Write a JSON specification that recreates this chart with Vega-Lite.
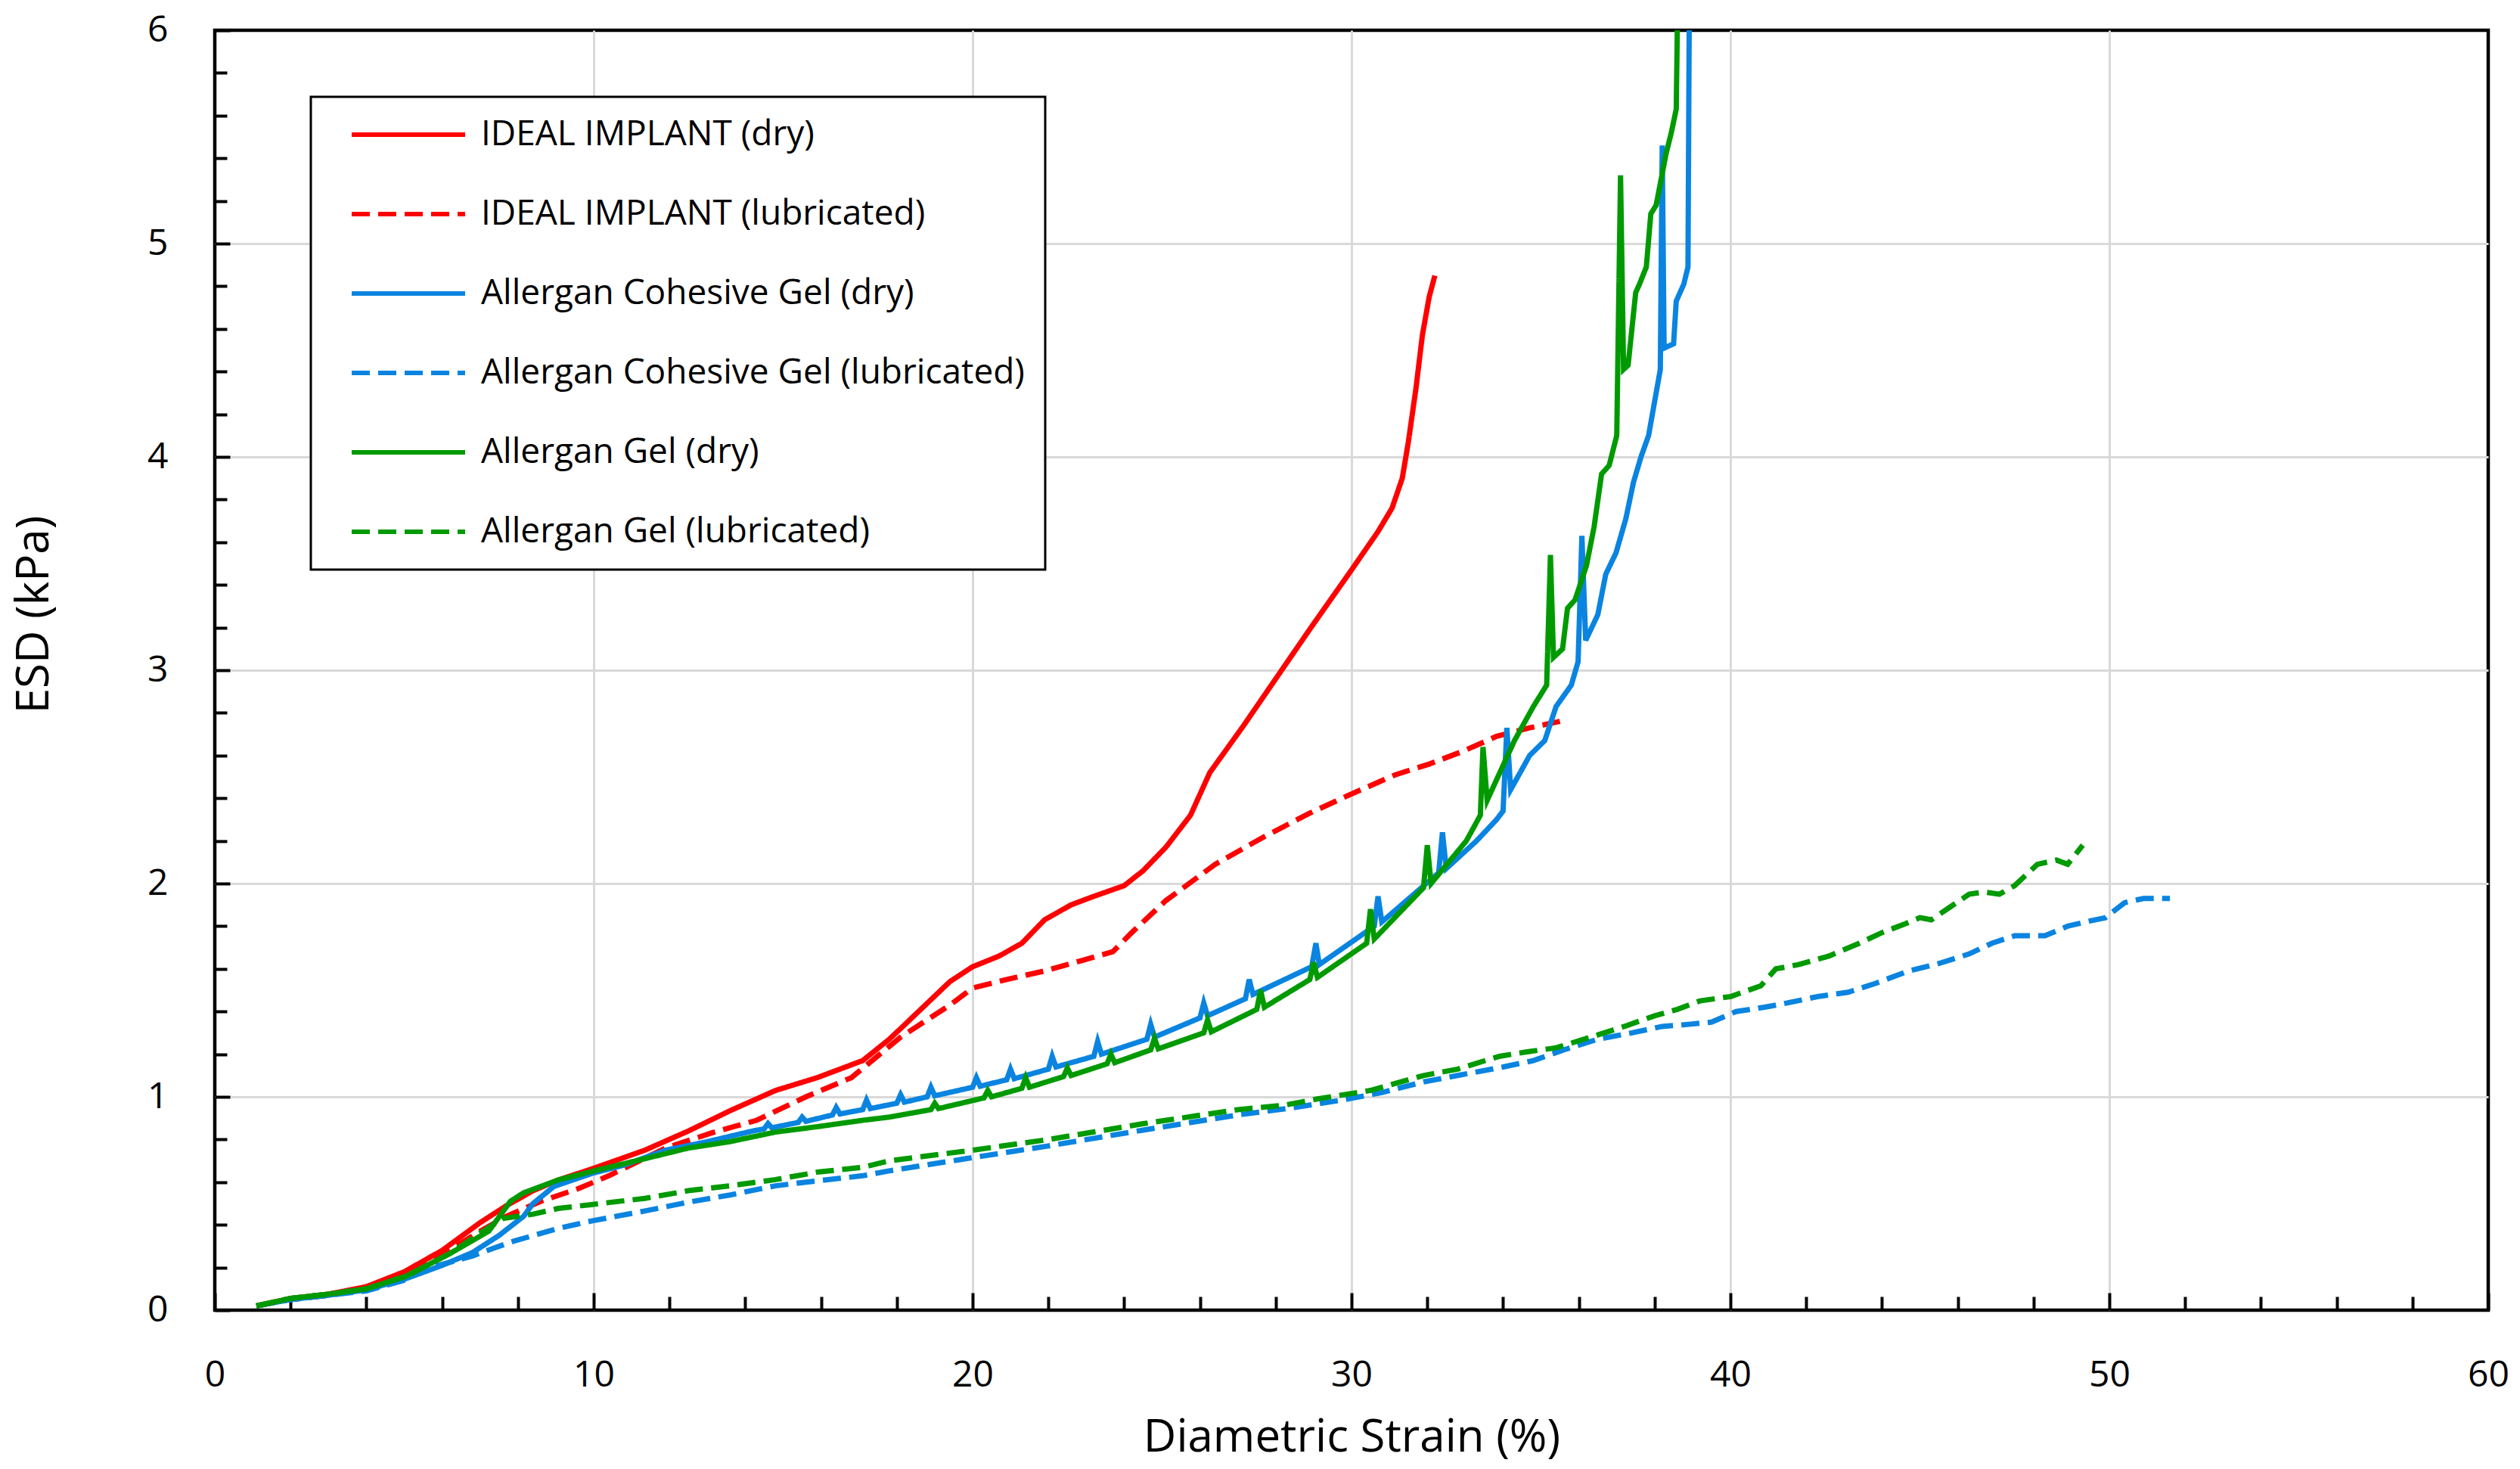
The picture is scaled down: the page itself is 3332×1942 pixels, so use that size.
{
  "$schema": "https://vega.github.io/schema/vega-lite/v6.json",
  "width": 3006,
  "height": 1692,
  "autosize": {"type": "none"},
  "padding": {"left": 284, "top": 40, "right": 42, "bottom": 210},
  "background": "white",
  "config": {
    "font": "Open Sans",
    "view": {"stroke": "black", "strokeWidth": 4.5},
    "legend": {"strokeWidth": 3}
  },
  "data": {
    "values": [
      {"s": "IDEAL IMPLANT (dry)", "x": 1.1, "y": 0.02},
      {"s": "IDEAL IMPLANT (dry)", "x": 2, "y": 0.055},
      {"s": "IDEAL IMPLANT (dry)", "x": 3, "y": 0.075},
      {"s": "IDEAL IMPLANT (dry)", "x": 4, "y": 0.11},
      {"s": "IDEAL IMPLANT (dry)", "x": 5, "y": 0.18},
      {"s": "IDEAL IMPLANT (dry)", "x": 6, "y": 0.28},
      {"s": "IDEAL IMPLANT (dry)", "x": 7, "y": 0.41},
      {"s": "IDEAL IMPLANT (dry)", "x": 7.7, "y": 0.49},
      {"s": "IDEAL IMPLANT (dry)", "x": 8.4, "y": 0.56},
      {"s": "IDEAL IMPLANT (dry)", "x": 9.06, "y": 0.61},
      {"s": "IDEAL IMPLANT (dry)", "x": 10, "y": 0.665},
      {"s": "IDEAL IMPLANT (dry)", "x": 11.35, "y": 0.75},
      {"s": "IDEAL IMPLANT (dry)", "x": 12.5, "y": 0.84},
      {"s": "IDEAL IMPLANT (dry)", "x": 13.6, "y": 0.935},
      {"s": "IDEAL IMPLANT (dry)", "x": 14.8, "y": 1.03},
      {"s": "IDEAL IMPLANT (dry)", "x": 15.9, "y": 1.09},
      {"s": "IDEAL IMPLANT (dry)", "x": 17.1, "y": 1.17},
      {"s": "IDEAL IMPLANT (dry)", "x": 17.8, "y": 1.27},
      {"s": "IDEAL IMPLANT (dry)", "x": 18.1, "y": 1.32},
      {"s": "IDEAL IMPLANT (dry)", "x": 18.75, "y": 1.43},
      {"s": "IDEAL IMPLANT (dry)", "x": 19.4, "y": 1.54},
      {"s": "IDEAL IMPLANT (dry)", "x": 20, "y": 1.61},
      {"s": "IDEAL IMPLANT (dry)", "x": 20.7, "y": 1.66},
      {"s": "IDEAL IMPLANT (dry)", "x": 21.3, "y": 1.72},
      {"s": "IDEAL IMPLANT (dry)", "x": 21.9, "y": 1.83},
      {"s": "IDEAL IMPLANT (dry)", "x": 22.6, "y": 1.9},
      {"s": "IDEAL IMPLANT (dry)", "x": 23.2, "y": 1.94},
      {"s": "IDEAL IMPLANT (dry)", "x": 24, "y": 1.99},
      {"s": "IDEAL IMPLANT (dry)", "x": 24.5, "y": 2.06},
      {"s": "IDEAL IMPLANT (dry)", "x": 25.1, "y": 2.17},
      {"s": "IDEAL IMPLANT (dry)", "x": 25.75, "y": 2.32},
      {"s": "IDEAL IMPLANT (dry)", "x": 26.26, "y": 2.52},
      {"s": "IDEAL IMPLANT (dry)", "x": 27.15, "y": 2.74},
      {"s": "IDEAL IMPLANT (dry)", "x": 28.04, "y": 2.97},
      {"s": "IDEAL IMPLANT (dry)", "x": 28.93, "y": 3.2},
      {"s": "IDEAL IMPLANT (dry)", "x": 30, "y": 3.47},
      {"s": "IDEAL IMPLANT (dry)", "x": 30.7, "y": 3.65},
      {"s": "IDEAL IMPLANT (dry)", "x": 31.07, "y": 3.76},
      {"s": "IDEAL IMPLANT (dry)", "x": 31.34, "y": 3.9},
      {"s": "IDEAL IMPLANT (dry)", "x": 31.5, "y": 4.07},
      {"s": "IDEAL IMPLANT (dry)", "x": 31.7, "y": 4.32},
      {"s": "IDEAL IMPLANT (dry)", "x": 31.87, "y": 4.57},
      {"s": "IDEAL IMPLANT (dry)", "x": 32.05, "y": 4.75},
      {"s": "IDEAL IMPLANT (dry)", "x": 32.2, "y": 4.85},

      {"s": "IDEAL IMPLANT (lubricated)", "x": 1.1, "y": 0.02},
      {"s": "IDEAL IMPLANT (lubricated)", "x": 2, "y": 0.05},
      {"s": "IDEAL IMPLANT (lubricated)", "x": 3, "y": 0.07},
      {"s": "IDEAL IMPLANT (lubricated)", "x": 4, "y": 0.105},
      {"s": "IDEAL IMPLANT (lubricated)", "x": 5, "y": 0.17},
      {"s": "IDEAL IMPLANT (lubricated)", "x": 6, "y": 0.26},
      {"s": "IDEAL IMPLANT (lubricated)", "x": 7, "y": 0.37},
      {"s": "IDEAL IMPLANT (lubricated)", "x": 7.7, "y": 0.44},
      {"s": "IDEAL IMPLANT (lubricated)", "x": 8.6, "y": 0.51},
      {"s": "IDEAL IMPLANT (lubricated)", "x": 9.6, "y": 0.57},
      {"s": "IDEAL IMPLANT (lubricated)", "x": 10.4, "y": 0.63},
      {"s": "IDEAL IMPLANT (lubricated)", "x": 11.9, "y": 0.76},
      {"s": "IDEAL IMPLANT (lubricated)", "x": 13.1, "y": 0.83},
      {"s": "IDEAL IMPLANT (lubricated)", "x": 14.3, "y": 0.89},
      {"s": "IDEAL IMPLANT (lubricated)", "x": 15.6, "y": 1.0},
      {"s": "IDEAL IMPLANT (lubricated)", "x": 16.8, "y": 1.09},
      {"s": "IDEAL IMPLANT (lubricated)", "x": 18.1, "y": 1.28},
      {"s": "IDEAL IMPLANT (lubricated)", "x": 19.4, "y": 1.43},
      {"s": "IDEAL IMPLANT (lubricated)", "x": 20, "y": 1.51},
      {"s": "IDEAL IMPLANT (lubricated)", "x": 20.9, "y": 1.55},
      {"s": "IDEAL IMPLANT (lubricated)", "x": 21.9, "y": 1.59},
      {"s": "IDEAL IMPLANT (lubricated)", "x": 22.9, "y": 1.64},
      {"s": "IDEAL IMPLANT (lubricated)", "x": 23.7, "y": 1.68},
      {"s": "IDEAL IMPLANT (lubricated)", "x": 24.2, "y": 1.77},
      {"s": "IDEAL IMPLANT (lubricated)", "x": 25.1, "y": 1.92},
      {"s": "IDEAL IMPLANT (lubricated)", "x": 26.4, "y": 2.09},
      {"s": "IDEAL IMPLANT (lubricated)", "x": 27.7, "y": 2.22},
      {"s": "IDEAL IMPLANT (lubricated)", "x": 28.9, "y": 2.33},
      {"s": "IDEAL IMPLANT (lubricated)", "x": 30, "y": 2.42},
      {"s": "IDEAL IMPLANT (lubricated)", "x": 31.16, "y": 2.51},
      {"s": "IDEAL IMPLANT (lubricated)", "x": 32.05, "y": 2.56},
      {"s": "IDEAL IMPLANT (lubricated)", "x": 32.94, "y": 2.62},
      {"s": "IDEAL IMPLANT (lubricated)", "x": 33.83, "y": 2.69},
      {"s": "IDEAL IMPLANT (lubricated)", "x": 34.7, "y": 2.73},
      {"s": "IDEAL IMPLANT (lubricated)", "x": 35.5, "y": 2.76},

      {"s": "Allergan Cohesive Gel (dry)", "x": 1.1, "y": 0.02},
      {"s": "Allergan Cohesive Gel (dry)", "x": 2, "y": 0.05},
      {"s": "Allergan Cohesive Gel (dry)", "x": 3, "y": 0.07},
      {"s": "Allergan Cohesive Gel (dry)", "x": 4, "y": 0.095},
      {"s": "Allergan Cohesive Gel (dry)", "x": 5, "y": 0.145},
      {"s": "Allergan Cohesive Gel (dry)", "x": 6, "y": 0.21},
      {"s": "Allergan Cohesive Gel (dry)", "x": 6.8, "y": 0.27},
      {"s": "Allergan Cohesive Gel (dry)", "x": 7.5, "y": 0.35},
      {"s": "Allergan Cohesive Gel (dry)", "x": 8.15, "y": 0.44},
      {"s": "Allergan Cohesive Gel (dry)", "x": 8.4, "y": 0.5},
      {"s": "Allergan Cohesive Gel (dry)", "x": 8.95, "y": 0.58},
      {"s": "Allergan Cohesive Gel (dry)", "x": 9.94, "y": 0.64},
      {"s": "Allergan Cohesive Gel (dry)", "x": 10.8, "y": 0.68},
      {"s": "Allergan Cohesive Gel (dry)", "x": 11.9, "y": 0.75},
      {"s": "Allergan Cohesive Gel (dry)", "x": 13, "y": 0.79},
      {"s": "Allergan Cohesive Gel (dry)", "x": 14.2, "y": 0.84},
      {"s": "Allergan Cohesive Gel (dry)", "x": 14.5, "y": 0.85},
      {"s": "Allergan Cohesive Gel (dry)", "x": 14.6, "y": 0.875},
      {"s": "Allergan Cohesive Gel (dry)", "x": 14.7, "y": 0.855},
      {"s": "Allergan Cohesive Gel (dry)", "x": 15.4, "y": 0.88},
      {"s": "Allergan Cohesive Gel (dry)", "x": 15.5, "y": 0.905},
      {"s": "Allergan Cohesive Gel (dry)", "x": 15.6, "y": 0.885},
      {"s": "Allergan Cohesive Gel (dry)", "x": 16.3, "y": 0.915},
      {"s": "Allergan Cohesive Gel (dry)", "x": 16.4, "y": 0.95},
      {"s": "Allergan Cohesive Gel (dry)", "x": 16.5, "y": 0.92},
      {"s": "Allergan Cohesive Gel (dry)", "x": 17.1, "y": 0.94},
      {"s": "Allergan Cohesive Gel (dry)", "x": 17.2, "y": 0.985},
      {"s": "Allergan Cohesive Gel (dry)", "x": 17.3, "y": 0.945},
      {"s": "Allergan Cohesive Gel (dry)", "x": 18.0, "y": 0.97},
      {"s": "Allergan Cohesive Gel (dry)", "x": 18.1, "y": 1.01},
      {"s": "Allergan Cohesive Gel (dry)", "x": 18.2, "y": 0.975},
      {"s": "Allergan Cohesive Gel (dry)", "x": 18.8, "y": 1.0},
      {"s": "Allergan Cohesive Gel (dry)", "x": 18.9, "y": 1.045},
      {"s": "Allergan Cohesive Gel (dry)", "x": 19.0, "y": 1.005},
      {"s": "Allergan Cohesive Gel (dry)", "x": 20.0, "y": 1.045},
      {"s": "Allergan Cohesive Gel (dry)", "x": 20.1, "y": 1.09},
      {"s": "Allergan Cohesive Gel (dry)", "x": 20.2, "y": 1.05},
      {"s": "Allergan Cohesive Gel (dry)", "x": 20.9, "y": 1.08},
      {"s": "Allergan Cohesive Gel (dry)", "x": 21.0, "y": 1.13},
      {"s": "Allergan Cohesive Gel (dry)", "x": 21.1, "y": 1.085},
      {"s": "Allergan Cohesive Gel (dry)", "x": 22.0, "y": 1.13},
      {"s": "Allergan Cohesive Gel (dry)", "x": 22.1, "y": 1.19},
      {"s": "Allergan Cohesive Gel (dry)", "x": 22.2, "y": 1.14},
      {"s": "Allergan Cohesive Gel (dry)", "x": 23.2, "y": 1.19},
      {"s": "Allergan Cohesive Gel (dry)", "x": 23.3, "y": 1.26},
      {"s": "Allergan Cohesive Gel (dry)", "x": 23.4, "y": 1.2},
      {"s": "Allergan Cohesive Gel (dry)", "x": 24.6, "y": 1.27},
      {"s": "Allergan Cohesive Gel (dry)", "x": 24.7, "y": 1.34},
      {"s": "Allergan Cohesive Gel (dry)", "x": 24.8, "y": 1.28},
      {"s": "Allergan Cohesive Gel (dry)", "x": 26.0, "y": 1.37},
      {"s": "Allergan Cohesive Gel (dry)", "x": 26.1, "y": 1.44},
      {"s": "Allergan Cohesive Gel (dry)", "x": 26.2, "y": 1.38},
      {"s": "Allergan Cohesive Gel (dry)", "x": 27.2, "y": 1.46},
      {"s": "Allergan Cohesive Gel (dry)", "x": 27.3, "y": 1.55},
      {"s": "Allergan Cohesive Gel (dry)", "x": 27.4, "y": 1.48},
      {"s": "Allergan Cohesive Gel (dry)", "x": 28.95, "y": 1.61},
      {"s": "Allergan Cohesive Gel (dry)", "x": 29.06, "y": 1.72},
      {"s": "Allergan Cohesive Gel (dry)", "x": 29.15, "y": 1.62},
      {"s": "Allergan Cohesive Gel (dry)", "x": 30.6, "y": 1.8},
      {"s": "Allergan Cohesive Gel (dry)", "x": 30.7, "y": 1.94},
      {"s": "Allergan Cohesive Gel (dry)", "x": 30.8, "y": 1.82},
      {"s": "Allergan Cohesive Gel (dry)", "x": 32.3, "y": 2.05},
      {"s": "Allergan Cohesive Gel (dry)", "x": 32.4, "y": 2.24},
      {"s": "Allergan Cohesive Gel (dry)", "x": 32.5, "y": 2.07},
      {"s": "Allergan Cohesive Gel (dry)", "x": 33.3, "y": 2.2},
      {"s": "Allergan Cohesive Gel (dry)", "x": 33.83, "y": 2.3},
      {"s": "Allergan Cohesive Gel (dry)", "x": 34.0, "y": 2.34},
      {"s": "Allergan Cohesive Gel (dry)", "x": 34.1, "y": 2.73},
      {"s": "Allergan Cohesive Gel (dry)", "x": 34.2, "y": 2.44},
      {"s": "Allergan Cohesive Gel (dry)", "x": 34.7, "y": 2.6},
      {"s": "Allergan Cohesive Gel (dry)", "x": 35.1, "y": 2.67},
      {"s": "Allergan Cohesive Gel (dry)", "x": 35.4, "y": 2.83},
      {"s": "Allergan Cohesive Gel (dry)", "x": 35.8, "y": 2.93},
      {"s": "Allergan Cohesive Gel (dry)", "x": 35.98, "y": 3.04},
      {"s": "Allergan Cohesive Gel (dry)", "x": 36.08, "y": 3.63},
      {"s": "Allergan Cohesive Gel (dry)", "x": 36.18, "y": 3.14},
      {"s": "Allergan Cohesive Gel (dry)", "x": 36.5, "y": 3.26},
      {"s": "Allergan Cohesive Gel (dry)", "x": 36.71, "y": 3.45},
      {"s": "Allergan Cohesive Gel (dry)", "x": 36.98, "y": 3.55},
      {"s": "Allergan Cohesive Gel (dry)", "x": 37.24, "y": 3.71},
      {"s": "Allergan Cohesive Gel (dry)", "x": 37.44, "y": 3.88},
      {"s": "Allergan Cohesive Gel (dry)", "x": 37.64, "y": 4.0},
      {"s": "Allergan Cohesive Gel (dry)", "x": 37.84, "y": 4.1},
      {"s": "Allergan Cohesive Gel (dry)", "x": 38.04, "y": 4.3},
      {"s": "Allergan Cohesive Gel (dry)", "x": 38.15, "y": 4.41},
      {"s": "Allergan Cohesive Gel (dry)", "x": 38.2, "y": 5.46},
      {"s": "Allergan Cohesive Gel (dry)", "x": 38.25, "y": 4.51},
      {"s": "Allergan Cohesive Gel (dry)", "x": 38.5, "y": 4.53},
      {"s": "Allergan Cohesive Gel (dry)", "x": 38.57, "y": 4.73},
      {"s": "Allergan Cohesive Gel (dry)", "x": 38.77, "y": 4.81},
      {"s": "Allergan Cohesive Gel (dry)", "x": 38.88, "y": 4.89},
      {"s": "Allergan Cohesive Gel (dry)", "x": 38.92, "y": 6.3},

      {"s": "Allergan Cohesive Gel (lubricated)", "x": 1.1, "y": 0.02},
      {"s": "Allergan Cohesive Gel (lubricated)", "x": 2, "y": 0.05},
      {"s": "Allergan Cohesive Gel (lubricated)", "x": 3, "y": 0.07},
      {"s": "Allergan Cohesive Gel (lubricated)", "x": 4, "y": 0.09},
      {"s": "Allergan Cohesive Gel (lubricated)", "x": 5, "y": 0.14},
      {"s": "Allergan Cohesive Gel (lubricated)", "x": 5.6, "y": 0.195},
      {"s": "Allergan Cohesive Gel (lubricated)", "x": 6.8, "y": 0.254},
      {"s": "Allergan Cohesive Gel (lubricated)", "x": 7.35, "y": 0.29},
      {"s": "Allergan Cohesive Gel (lubricated)", "x": 7.9, "y": 0.324},
      {"s": "Allergan Cohesive Gel (lubricated)", "x": 9.06, "y": 0.383},
      {"s": "Allergan Cohesive Gel (lubricated)", "x": 9.94, "y": 0.418},
      {"s": "Allergan Cohesive Gel (lubricated)", "x": 11.35, "y": 0.465},
      {"s": "Allergan Cohesive Gel (lubricated)", "x": 12.5, "y": 0.506},
      {"s": "Allergan Cohesive Gel (lubricated)", "x": 13.6, "y": 0.54},
      {"s": "Allergan Cohesive Gel (lubricated)", "x": 14.8, "y": 0.583},
      {"s": "Allergan Cohesive Gel (lubricated)", "x": 15.9, "y": 0.606},
      {"s": "Allergan Cohesive Gel (lubricated)", "x": 17.1, "y": 0.63},
      {"s": "Allergan Cohesive Gel (lubricated)", "x": 17.8, "y": 0.653},
      {"s": "Allergan Cohesive Gel (lubricated)", "x": 20, "y": 0.715},
      {"s": "Allergan Cohesive Gel (lubricated)", "x": 22, "y": 0.77},
      {"s": "Allergan Cohesive Gel (lubricated)", "x": 24.5, "y": 0.844},
      {"s": "Allergan Cohesive Gel (lubricated)", "x": 27, "y": 0.915},
      {"s": "Allergan Cohesive Gel (lubricated)", "x": 28.5, "y": 0.95},
      {"s": "Allergan Cohesive Gel (lubricated)", "x": 29.75, "y": 0.985},
      {"s": "Allergan Cohesive Gel (lubricated)", "x": 30.8, "y": 1.02},
      {"s": "Allergan Cohesive Gel (lubricated)", "x": 31.9, "y": 1.07},
      {"s": "Allergan Cohesive Gel (lubricated)", "x": 32.8, "y": 1.1},
      {"s": "Allergan Cohesive Gel (lubricated)", "x": 34.0, "y": 1.14},
      {"s": "Allergan Cohesive Gel (lubricated)", "x": 34.8, "y": 1.17},
      {"s": "Allergan Cohesive Gel (lubricated)", "x": 35.6, "y": 1.22},
      {"s": "Allergan Cohesive Gel (lubricated)", "x": 36.5, "y": 1.27},
      {"s": "Allergan Cohesive Gel (lubricated)", "x": 37.4, "y": 1.3},
      {"s": "Allergan Cohesive Gel (lubricated)", "x": 38.2, "y": 1.33},
      {"s": "Allergan Cohesive Gel (lubricated)", "x": 38.9, "y": 1.34},
      {"s": "Allergan Cohesive Gel (lubricated)", "x": 39.5, "y": 1.35},
      {"s": "Allergan Cohesive Gel (lubricated)", "x": 40.15, "y": 1.4},
      {"s": "Allergan Cohesive Gel (lubricated)", "x": 40.9, "y": 1.42},
      {"s": "Allergan Cohesive Gel (lubricated)", "x": 41.5, "y": 1.44},
      {"s": "Allergan Cohesive Gel (lubricated)", "x": 42.3, "y": 1.47},
      {"s": "Allergan Cohesive Gel (lubricated)", "x": 43.1, "y": 1.49},
      {"s": "Allergan Cohesive Gel (lubricated)", "x": 43.8, "y": 1.53},
      {"s": "Allergan Cohesive Gel (lubricated)", "x": 44.7, "y": 1.59},
      {"s": "Allergan Cohesive Gel (lubricated)", "x": 45.5, "y": 1.625},
      {"s": "Allergan Cohesive Gel (lubricated)", "x": 46.3, "y": 1.67},
      {"s": "Allergan Cohesive Gel (lubricated)", "x": 46.9, "y": 1.72},
      {"s": "Allergan Cohesive Gel (lubricated)", "x": 47.5, "y": 1.755},
      {"s": "Allergan Cohesive Gel (lubricated)", "x": 48.3, "y": 1.755},
      {"s": "Allergan Cohesive Gel (lubricated)", "x": 48.9, "y": 1.8},
      {"s": "Allergan Cohesive Gel (lubricated)", "x": 49.5, "y": 1.825},
      {"s": "Allergan Cohesive Gel (lubricated)", "x": 49.9, "y": 1.84},
      {"s": "Allergan Cohesive Gel (lubricated)", "x": 50.4, "y": 1.91},
      {"s": "Allergan Cohesive Gel (lubricated)", "x": 50.9, "y": 1.93},
      {"s": "Allergan Cohesive Gel (lubricated)", "x": 51.6, "y": 1.93},

      {"s": "Allergan Gel (dry)", "x": 1.1, "y": 0.02},
      {"s": "Allergan Gel (dry)", "x": 2, "y": 0.055},
      {"s": "Allergan Gel (dry)", "x": 3, "y": 0.075},
      {"s": "Allergan Gel (dry)", "x": 4, "y": 0.1},
      {"s": "Allergan Gel (dry)", "x": 5.06, "y": 0.16},
      {"s": "Allergan Gel (dry)", "x": 6.2, "y": 0.265},
      {"s": "Allergan Gel (dry)", "x": 7.23, "y": 0.37},
      {"s": "Allergan Gel (dry)", "x": 7.8, "y": 0.51},
      {"s": "Allergan Gel (dry)", "x": 8.15, "y": 0.55},
      {"s": "Allergan Gel (dry)", "x": 9.06, "y": 0.61},
      {"s": "Allergan Gel (dry)", "x": 9.94, "y": 0.65},
      {"s": "Allergan Gel (dry)", "x": 11.35, "y": 0.71},
      {"s": "Allergan Gel (dry)", "x": 12.5, "y": 0.76},
      {"s": "Allergan Gel (dry)", "x": 13.6, "y": 0.79},
      {"s": "Allergan Gel (dry)", "x": 14.8, "y": 0.835},
      {"s": "Allergan Gel (dry)", "x": 15.9, "y": 0.86},
      {"s": "Allergan Gel (dry)", "x": 17.1, "y": 0.89},
      {"s": "Allergan Gel (dry)", "x": 17.8, "y": 0.905},
      {"s": "Allergan Gel (dry)", "x": 18.9, "y": 0.94},
      {"s": "Allergan Gel (dry)", "x": 19.0, "y": 0.97},
      {"s": "Allergan Gel (dry)", "x": 19.1, "y": 0.945},
      {"s": "Allergan Gel (dry)", "x": 20.3, "y": 0.995},
      {"s": "Allergan Gel (dry)", "x": 20.4, "y": 1.03},
      {"s": "Allergan Gel (dry)", "x": 20.5, "y": 1.0},
      {"s": "Allergan Gel (dry)", "x": 21.3, "y": 1.04},
      {"s": "Allergan Gel (dry)", "x": 21.4, "y": 1.09},
      {"s": "Allergan Gel (dry)", "x": 21.5, "y": 1.045},
      {"s": "Allergan Gel (dry)", "x": 22.4, "y": 1.095},
      {"s": "Allergan Gel (dry)", "x": 22.5, "y": 1.135},
      {"s": "Allergan Gel (dry)", "x": 22.6, "y": 1.1},
      {"s": "Allergan Gel (dry)", "x": 23.55, "y": 1.155},
      {"s": "Allergan Gel (dry)", "x": 23.65, "y": 1.2},
      {"s": "Allergan Gel (dry)", "x": 23.75, "y": 1.16},
      {"s": "Allergan Gel (dry)", "x": 24.7, "y": 1.22},
      {"s": "Allergan Gel (dry)", "x": 24.8, "y": 1.275},
      {"s": "Allergan Gel (dry)", "x": 24.9, "y": 1.225},
      {"s": "Allergan Gel (dry)", "x": 26.1, "y": 1.3},
      {"s": "Allergan Gel (dry)", "x": 26.2, "y": 1.36},
      {"s": "Allergan Gel (dry)", "x": 26.3, "y": 1.305},
      {"s": "Allergan Gel (dry)", "x": 27.5, "y": 1.41},
      {"s": "Allergan Gel (dry)", "x": 27.6, "y": 1.5},
      {"s": "Allergan Gel (dry)", "x": 27.7, "y": 1.42},
      {"s": "Allergan Gel (dry)", "x": 28.9, "y": 1.55},
      {"s": "Allergan Gel (dry)", "x": 29.0, "y": 1.63},
      {"s": "Allergan Gel (dry)", "x": 29.1, "y": 1.56},
      {"s": "Allergan Gel (dry)", "x": 30.4, "y": 1.72},
      {"s": "Allergan Gel (dry)", "x": 30.5, "y": 1.88},
      {"s": "Allergan Gel (dry)", "x": 30.6, "y": 1.74},
      {"s": "Allergan Gel (dry)", "x": 31.9, "y": 1.98},
      {"s": "Allergan Gel (dry)", "x": 32.0, "y": 2.18},
      {"s": "Allergan Gel (dry)", "x": 32.1, "y": 2.0},
      {"s": "Allergan Gel (dry)", "x": 33.03, "y": 2.2},
      {"s": "Allergan Gel (dry)", "x": 33.4, "y": 2.32},
      {"s": "Allergan Gel (dry)", "x": 33.47, "y": 2.64},
      {"s": "Allergan Gel (dry)", "x": 33.58, "y": 2.39},
      {"s": "Allergan Gel (dry)", "x": 34.3, "y": 2.67},
      {"s": "Allergan Gel (dry)", "x": 34.8, "y": 2.83},
      {"s": "Allergan Gel (dry)", "x": 35.15, "y": 2.93},
      {"s": "Allergan Gel (dry)", "x": 35.25, "y": 3.54},
      {"s": "Allergan Gel (dry)", "x": 35.33, "y": 3.06},
      {"s": "Allergan Gel (dry)", "x": 35.57, "y": 3.1},
      {"s": "Allergan Gel (dry)", "x": 35.7, "y": 3.29},
      {"s": "Allergan Gel (dry)", "x": 35.9, "y": 3.33},
      {"s": "Allergan Gel (dry)", "x": 36.2, "y": 3.49},
      {"s": "Allergan Gel (dry)", "x": 36.4, "y": 3.67},
      {"s": "Allergan Gel (dry)", "x": 36.6, "y": 3.92},
      {"s": "Allergan Gel (dry)", "x": 36.8, "y": 3.96},
      {"s": "Allergan Gel (dry)", "x": 37.0, "y": 4.1},
      {"s": "Allergan Gel (dry)", "x": 37.1, "y": 5.32},
      {"s": "Allergan Gel (dry)", "x": 37.18, "y": 4.41},
      {"s": "Allergan Gel (dry)", "x": 37.3, "y": 4.43},
      {"s": "Allergan Gel (dry)", "x": 37.5, "y": 4.77},
      {"s": "Allergan Gel (dry)", "x": 37.6, "y": 4.81},
      {"s": "Allergan Gel (dry)", "x": 37.78, "y": 4.89},
      {"s": "Allergan Gel (dry)", "x": 37.9, "y": 5.14},
      {"s": "Allergan Gel (dry)", "x": 38.04, "y": 5.18},
      {"s": "Allergan Gel (dry)", "x": 38.3, "y": 5.42},
      {"s": "Allergan Gel (dry)", "x": 38.44, "y": 5.52},
      {"s": "Allergan Gel (dry)", "x": 38.57, "y": 5.63},
      {"s": "Allergan Gel (dry)", "x": 38.62, "y": 6.3},

      {"s": "Allergan Gel (lubricated)", "x": 1.1, "y": 0.02},
      {"s": "Allergan Gel (lubricated)", "x": 2, "y": 0.055},
      {"s": "Allergan Gel (lubricated)", "x": 3, "y": 0.075},
      {"s": "Allergan Gel (lubricated)", "x": 4, "y": 0.1},
      {"s": "Allergan Gel (lubricated)", "x": 5.06, "y": 0.16},
      {"s": "Allergan Gel (lubricated)", "x": 6.2, "y": 0.265},
      {"s": "Allergan Gel (lubricated)", "x": 7.0, "y": 0.36},
      {"s": "Allergan Gel (lubricated)", "x": 7.6, "y": 0.43},
      {"s": "Allergan Gel (lubricated)", "x": 8.4, "y": 0.45},
      {"s": "Allergan Gel (lubricated)", "x": 9.06, "y": 0.477},
      {"s": "Allergan Gel (lubricated)", "x": 9.94, "y": 0.495},
      {"s": "Allergan Gel (lubricated)", "x": 11.35, "y": 0.524},
      {"s": "Allergan Gel (lubricated)", "x": 12.5, "y": 0.56},
      {"s": "Allergan Gel (lubricated)", "x": 13.6, "y": 0.583},
      {"s": "Allergan Gel (lubricated)", "x": 14.8, "y": 0.612},
      {"s": "Allergan Gel (lubricated)", "x": 15.9, "y": 0.647},
      {"s": "Allergan Gel (lubricated)", "x": 17.1, "y": 0.67},
      {"s": "Allergan Gel (lubricated)", "x": 17.8, "y": 0.7},
      {"s": "Allergan Gel (lubricated)", "x": 20, "y": 0.75},
      {"s": "Allergan Gel (lubricated)", "x": 22, "y": 0.8},
      {"s": "Allergan Gel (lubricated)", "x": 24.5, "y": 0.874},
      {"s": "Allergan Gel (lubricated)", "x": 27, "y": 0.94},
      {"s": "Allergan Gel (lubricated)", "x": 28.2, "y": 0.96},
      {"s": "Allergan Gel (lubricated)", "x": 29.1, "y": 0.99},
      {"s": "Allergan Gel (lubricated)", "x": 30.5, "y": 1.03},
      {"s": "Allergan Gel (lubricated)", "x": 31.9, "y": 1.1},
      {"s": "Allergan Gel (lubricated)", "x": 32.8, "y": 1.13},
      {"s": "Allergan Gel (lubricated)", "x": 33.9, "y": 1.19},
      {"s": "Allergan Gel (lubricated)", "x": 34.6, "y": 1.21},
      {"s": "Allergan Gel (lubricated)", "x": 35.4, "y": 1.23},
      {"s": "Allergan Gel (lubricated)", "x": 36.5, "y": 1.29},
      {"s": "Allergan Gel (lubricated)", "x": 37.2, "y": 1.33},
      {"s": "Allergan Gel (lubricated)", "x": 38.0, "y": 1.38},
      {"s": "Allergan Gel (lubricated)", "x": 38.6, "y": 1.41},
      {"s": "Allergan Gel (lubricated)", "x": 39.2, "y": 1.45},
      {"s": "Allergan Gel (lubricated)", "x": 40.0, "y": 1.47},
      {"s": "Allergan Gel (lubricated)", "x": 40.8, "y": 1.52},
      {"s": "Allergan Gel (lubricated)", "x": 41.2, "y": 1.6},
      {"s": "Allergan Gel (lubricated)", "x": 41.8, "y": 1.62},
      {"s": "Allergan Gel (lubricated)", "x": 42.6, "y": 1.66},
      {"s": "Allergan Gel (lubricated)", "x": 43.4, "y": 1.72},
      {"s": "Allergan Gel (lubricated)", "x": 44.0, "y": 1.77},
      {"s": "Allergan Gel (lubricated)", "x": 44.6, "y": 1.81},
      {"s": "Allergan Gel (lubricated)", "x": 45.0, "y": 1.84},
      {"s": "Allergan Gel (lubricated)", "x": 45.3, "y": 1.83},
      {"s": "Allergan Gel (lubricated)", "x": 45.8, "y": 1.89},
      {"s": "Allergan Gel (lubricated)", "x": 46.3, "y": 1.95},
      {"s": "Allergan Gel (lubricated)", "x": 46.7, "y": 1.96},
      {"s": "Allergan Gel (lubricated)", "x": 47.1, "y": 1.95},
      {"s": "Allergan Gel (lubricated)", "x": 47.5, "y": 1.99},
      {"s": "Allergan Gel (lubricated)", "x": 48.1, "y": 2.09},
      {"s": "Allergan Gel (lubricated)", "x": 48.6, "y": 2.11},
      {"s": "Allergan Gel (lubricated)", "x": 48.9, "y": 2.09},
      {"s": "Allergan Gel (lubricated)", "x": 49.3, "y": 2.18}
    ]
  },
  "mark": {"type": "line", "clip": true, "strokeWidth": 7, "strokeCap": "butt"},
  "encoding": {
    "x": {
      "field": "x", "type": "quantitative",
      "scale": {"domain": [0, 60], "nice": false, "zero": false},
      "axis": {
        "values": [0,2,4,6,8,10,12,14,16,18,20,22,24,26,28,30,32,34,36,38,40,42,44,46,48,50,52,54,56,58,60],
        "labelExpr": "datum.value % 10 === 0 ? format(datum.value, 'd') : ''",
        "labelFlush": false,
        "labelOverlap": false,
        "labelFont": "Open Sans",
        "labelFontSize": 48,
        "labelColor": "#000000",
        "labelPadding": 85,
        "tickSize": {"condition": {"test": "datum.value % 10 === 0", "value": -23}, "value": -18},
        "tickColor": "#000000",
        "tickWidth": 4,
        "domain": false,
        "grid": true,
        "gridColor": "#D9D9D9",
        "gridWidth": 3,
        "gridOpacity": {"condition": {"test": "datum.value % 10 === 0 && datum.value > 0 && datum.value < 60", "value": 1}, "value": 0},
        "title": "Diametric Strain (%)",
        "titleFont": "Open Sans",
        "titleFontSize": 60,
        "titleFontWeight": "normal",
        "titleColor": "#000000",
        "titleBaseline": "alphabetic",
        "titleY": 186
      }
    },
    "y": {
      "field": "y", "type": "quantitative",
      "scale": {"domain": [0, 6], "nice": false},
      "axis": {
        "values": [0,0.2,0.4,0.6,0.8,1,1.2,1.4,1.6,1.8,2,2.2,2.4,2.6,2.8,3,3.2,3.4,3.6,3.8,4,4.2,4.4,4.6,4.8,5,5.2,5.4,5.6,5.8,6],
        "labelExpr": "datum.value % 1 === 0 ? format(datum.value, 'd') : ''",
        "labelFlush": false,
        "labelOverlap": false,
        "labelFont": "Open Sans",
        "labelFontSize": 48,
        "labelColor": "#000000",
        "labelPadding": 82,
        "tickSize": {"condition": {"test": "datum.value % 1 === 0", "value": -20}, "value": -16},
        "tickColor": "#000000",
        "tickWidth": 4,
        "domain": false,
        "grid": true,
        "gridColor": "#D9D9D9",
        "gridWidth": 3,
        "gridOpacity": {"condition": {"test": "datum.value % 1 === 0 && datum.value > 0 && datum.value < 6", "value": 1}, "value": 0},
        "title": "ESD (kPa)",
        "titleFont": "Open Sans",
        "titleFontSize": 60,
        "titleFontWeight": "normal",
        "titleColor": "#000000",
        "titleBaseline": "alphabetic",
        "titleAngle": -90,
        "titleX": -221,
        "titleY": 772
      }
    },
    "color": {
      "field": "s", "type": "nominal",
      "scale": {
        "domain": ["IDEAL IMPLANT (dry)", "IDEAL IMPLANT (lubricated)", "Allergan Cohesive Gel (dry)", "Allergan Cohesive Gel (lubricated)", "Allergan Gel (dry)", "Allergan Gel (lubricated)"],
        "range": ["#FF0000", "#FF0000", "#0A84E0", "#0A84E0", "#009A00", "#009A00"]
      },
      "legend": {
        "orient": "none", "legendX": 127, "legendY": 88,
        "title": null,
        "symbolType": "stroke", "symbolSize": 22500, "symbolStrokeWidth": 6,
        "clipHeight": 46,
        "labelFont": "Open Sans", "labelFontSize": 46, "labelColor": "#000000", "labelLimit": 2000,
        "labelOffset": 18, "symbolOffset": 24,
        "rowPadding": 59, "padding": 27,
        "strokeColor": "#000000", "fillColor": "#FFFFFF"
      }
    },
    "strokeDash": {
      "field": "s", "type": "nominal",
      "scale": {
        "domain": ["IDEAL IMPLANT (dry)", "IDEAL IMPLANT (lubricated)", "Allergan Cohesive Gel (dry)", "Allergan Cohesive Gel (lubricated)", "Allergan Gel (dry)", "Allergan Gel (lubricated)"],
        "range": [[1, 0], [24, 11], [1, 0], [24, 11], [1, 0], [24, 11]]
      },
      "legend": {
        "orient": "none", "legendX": 127, "legendY": 88,
        "title": null,
        "symbolType": "stroke", "symbolSize": 22500, "symbolStrokeWidth": 6,
        "clipHeight": 46,
        "labelFont": "Open Sans", "labelFontSize": 46, "labelColor": "#000000", "labelLimit": 2000,
        "labelOffset": 18, "symbolOffset": 24,
        "rowPadding": 59, "padding": 27,
        "strokeColor": "#000000", "fillColor": "#FFFFFF"
      }
    }
  }
}
